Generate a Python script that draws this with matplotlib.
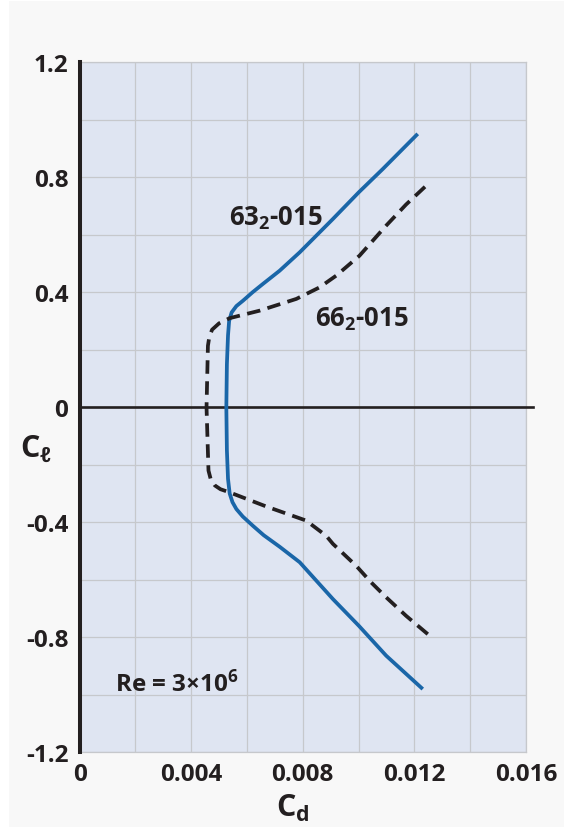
import matplotlib
matplotlib.use("Agg")
import matplotlib.pyplot as plt
from matplotlib.ticker import MultipleLocator
from matplotlib.patches import Rectangle

plt.rcParams['font.family'] = ['Open Sans', 'DejaVu Sans']
plt.rcParams['font.weight'] = 'bold'
plt.rcParams['mathtext.fontset'] = 'custom'
plt.rcParams['mathtext.rm'] = 'Open Sans:bold'
plt.rcParams['mathtext.it'] = 'Open Sans:bold'
plt.rcParams['mathtext.bf'] = 'Open Sans:bold'
plt.rcParams['mathtext.sf'] = 'Open Sans:bold'

# 63_2-015 (solid blue), listed from bottom to top
cd_63 = [0.01230, 0.01099, 0.01001, 0.00908, 0.00789, 0.00717, 0.00660, 0.00621,
         0.00585, 0.00562, 0.00548, 0.00538, 0.00532, 0.00528, 0.00526, 0.00528,
         0.00532, 0.00536, 0.00545, 0.00562, 0.00586, 0.00620, 0.00657, 0.00717,
         0.00789, 0.00908, 0.01001, 0.01087, 0.01212]
cl_63 = [-0.980, -0.864, -0.760, -0.667, -0.539, -0.485, -0.445, -0.412,
         -0.380, -0.354, -0.330, -0.300, -0.249, -0.150, 0.0, 0.150,
         0.250, 0.300, 0.330, 0.352, 0.371, 0.400, 0.429, 0.475,
         0.539, 0.655, 0.748, 0.829, 0.951]

# 66_2-015 (dashed black), listed from bottom to top
cd_66 = [0.01248, 0.01170, 0.01099, 0.01045, 0.00991, 0.00908, 0.00884, 0.00812,
         0.00669, 0.00538, 0.00505, 0.00485, 0.00470, 0.00462, 0.00455, 0.00460,
         0.00465, 0.00475, 0.00500, 0.00538, 0.00645, 0.00777, 0.00860, 0.00920,
         0.01003, 0.01099, 0.01170, 0.01248]
cl_66 = [-0.789, -0.725, -0.661, -0.609, -0.551, -0.475, -0.447, -0.394,
         -0.345, -0.296, -0.285, -0.272, -0.250, -0.220, 0.0, 0.214,
         0.245, 0.270, 0.292, 0.310, 0.336, 0.377, 0.417, 0.458,
         0.527, 0.632, 0.705, 0.776]

x_ticks = [0, 0.004, 0.008, 0.012, 0.016]
x_tick_labels = ['0', '0.004', '0.008', '0.012', '0.016']
y_ticks = [-1.2, -0.8, -0.4, 0, 0.4, 0.8, 1.2]
y_tick_labels = ['-1.2', '-0.8', '-0.4', '0', '0.4', '0.8', '1.2']

TXT = '#231f20'
BLUE = '#1a66a8'
GRID = '#c6c8cc'

fig = plt.figure(figsize=(5.64, 8.28), dpi=100, facecolor='#f8f8f8')
fig.patches.append(Rectangle((0, 0), 9 / 564, 1, transform=fig.transFigure,
                             facecolor='white', edgecolor='none', zorder=-10))
fig.patches.append(Rectangle((0, 1 - 2 / 828), 1, 2 / 828, transform=fig.transFigure,
                             facecolor='white', edgecolor='none', zorder=-10))

ax = fig.add_axes([0.1411, 0.0902, 0.9326 - 0.1411, 0.9236 - 0.0902])
ax.set_facecolor('#dfe5f2')
ax.set_xlim(0, 0.016)
ax.set_ylim(-1.2, 1.2)

ax.xaxis.set_minor_locator(MultipleLocator(0.002))
ax.yaxis.set_minor_locator(MultipleLocator(0.2))
ax.set_xticks(x_ticks)
ax.set_xticklabels(x_tick_labels)
ax.set_yticks(y_ticks)
ax.set_yticklabels(y_tick_labels)
ax.grid(True, which='both', color=GRID, lw=0.9, zorder=0)
ax.set_axisbelow(True)
ax.tick_params(which='both', length=0)
ax.tick_params(axis='x', pad=7, labelsize=17.5, labelcolor=TXT)
ax.tick_params(axis='y', pad=8, labelsize=17.5, labelcolor=TXT)

for s in ['top', 'right', 'bottom']:
    ax.spines[s].set_color(GRID)
    ax.spines[s].set_linewidth(0.9)
ax.spines['left'].set_color(TXT)
ax.spines['left'].set_linewidth(2.9)
ax.spines['left'].set_zorder(5)

ax.axhline(0, xmin=0, xmax=1.016, color=TXT, lw=1.9, clip_on=False, zorder=3)

ax.plot(cd_63, cl_63, color=BLUE, lw=2.7, solid_capstyle='butt',
        solid_joinstyle='round', zorder=4)
ax.plot(cd_66, cl_66, color=TXT, lw=2.7, dashes=(3.6, 2.0), zorder=4)

ax.text(0.00704, 0.634, '63$_2$-015', ha='center', va='baseline',
        fontsize=18.5, color=TXT, fontweight='bold')
ax.text(0.01012, 0.284, '66$_2$-015', ha='center', va='baseline',
        fontsize=18.5, color=TXT, fontweight='bold')
ax.text(0.00127, -0.986, 'Re = 3\u00d710$^6$', ha='left', va='baseline',
        fontsize=17.5, color=TXT, fontweight='bold')

fig.text(293 / 564, 1 - 817 / 828, 'C$_d$', ha='center', va='baseline',
         fontsize=22, color=TXT, fontweight='bold')
fig.text(20 / 564, 1 - 456.7 / 828, 'C$_\\ell$', ha='left', va='baseline',
         fontsize=22, color=TXT, fontweight='bold')

fig.savefig('out.png', dpi=100, facecolor=fig.get_facecolor())
